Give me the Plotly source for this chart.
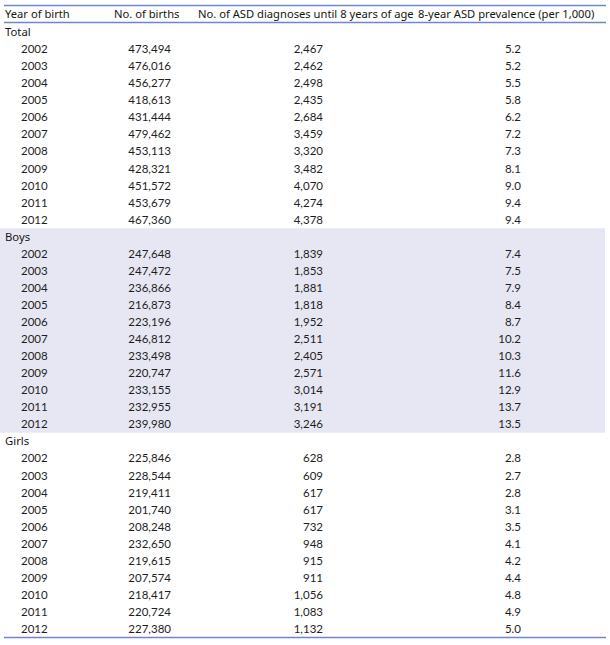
import plotly.graph_objects as go

years = list(range(2002, 2013))
groups = ["Total", "Boys", "Girls"]
headers = ["Year of birth", "No. of births", "No. of ASD diagnoses until 8 years of age",
           "8-year ASD prevalence (per 1,000)"]

total_births = [473494, 476016, 456277, 418613, 431444, 479462, 453113, 428321, 451572, 453679, 467360]
total_diag = [2467, 2462, 2498, 2435, 2684, 3459, 3320, 3482, 4070, 4274, 4378]
total_prev = [5.2, 5.2, 5.5, 5.8, 6.2, 7.2, 7.3, 8.1, 9.0, 9.4, 9.4]

boys_births = [247648, 247472, 236866, 216873, 223196, 246812, 233498, 220747, 233155, 232955, 239980]
boys_diag = [1839, 1853, 1881, 1818, 1952, 2511, 2405, 2571, 3014, 3191, 3246]
boys_prev = [7.4, 7.5, 7.9, 8.4, 8.7, 10.2, 10.3, 11.6, 12.9, 13.7, 13.5]

girls_births = [225846, 228544, 219411, 201740, 208248, 232650, 219615, 207574, 218417, 220724, 227380]
girls_diag = [628, 609, 617, 617, 732, 948, 915, 911, 1056, 1083, 1132]
girls_prev = [2.8, 2.7, 2.8, 3.1, 3.5, 4.1, 4.2, 4.4, 4.8, 4.9, 5.0]

W, H = 610, 645
PITCH = 17.057
Y0 = 32.0  # pixel of first body row centre
TXT_DY = 1.2 / PITCH  # small downward nudge of text baseline (in row units)
LINE = "#6f87c6"
SHADE = "#e7e7f3"
TXT = "#1e1e1e"
HFONT = "Noto Sans"
BFONT = "Lato"

def ypx(px):
    return (px - Y0) / PITCH

sections = [
    ("Total", total_births, total_diag, total_prev),
    ("Boys", boys_births, boys_diag, boys_prev),
    ("Girls", girls_births, girls_diag, girls_prev),
]

grp_y, grp_t = [], []
yr_y, yr_t = [], []
b_t, d_t, p_t, v_y = [], [], [], []
row = 0
shade_rows = None
for name, b, d, p in sections:
    grp_y.append(row + TXT_DY); grp_t.append(name)
    start = row
    row += 1
    for yv, bv, dv, pv in zip(years, b, d, p):
        yr_y.append(row + TXT_DY); yr_t.append(str(yv))
        v_y.append(row + TXT_DY)
        b_t.append(f"{bv:,}")
        d_t.append(f"{dv:,}")
        p_t.append(f"{pv:.1f}")
        row += 1
    if name == "Boys":
        shade_rows = (start - 0.5, row - 0.5)

fig = go.Figure()

def add_text(xs, ys, texts, pos, font, size, color=TXT):
    fig.add_trace(go.Scatter(
        x=xs, y=ys, text=texts, mode="text", textposition=pos,
        textfont=dict(family=font, size=size, color=color),
        hoverinfo="skip", showlegend=False, cliponaxis=False))

# headers
hx = [5, 114, 198, 418]
add_text(hx, [ypx(15.3)] * 4, headers, "middle right", HFONT, 11.2, "#151515")
# group labels
add_text([5] * len(grp_y), grp_y, grp_t, "middle right", HFONT, 11.3, "#151515")
# years
add_text([21] * len(yr_y), yr_y, yr_t, "middle right", BFONT, 11.5)
# births
add_text([171] * len(v_y), v_y, b_t, "middle left", BFONT, 11.5)
# diagnoses
add_text([323] * len(v_y), v_y, d_t, "middle left", BFONT, 11.5)
# prevalence
add_text([521] * len(v_y), v_y, p_t, "middle left", BFONT, 11.5)

shapes = [
    dict(type="rect", xref="x", yref="y", x0=0, x1=605, y0=shade_rows[0], y1=shade_rows[1],
         fillcolor=SHADE, line=dict(width=0), layer="below"),
    dict(type="line", xref="x", yref="y", x0=4, x1=606, y0=ypx(5.5), y1=ypx(5.5),
         line=dict(color=LINE, width=1.5)),
    dict(type="line", xref="x", yref="y", x0=4, x1=606, y0=ypx(22.5), y1=ypx(22.5),
         line=dict(color=LINE, width=1.5)),
    dict(type="line", xref="x", yref="y", x0=4, x1=606, y0=ypx(637.5), y1=ypx(637.5),
         line=dict(color=LINE, width=1.5)),
]

fig.update_layout(
    width=W, height=H, margin=dict(l=0, r=0, t=0, b=0),
    paper_bgcolor="white", plot_bgcolor="white",
    xaxis=dict(range=[0, W], visible=False, fixedrange=True),
    yaxis=dict(range=[ypx(H), ypx(0)], visible=False, fixedrange=True),
    shapes=shapes, hovermode=False,
)

fig.write_html("out.html", config={"displayModeBar": False},
               post_script="document.body.style.margin='0';document.body.style.overflow='hidden';")
